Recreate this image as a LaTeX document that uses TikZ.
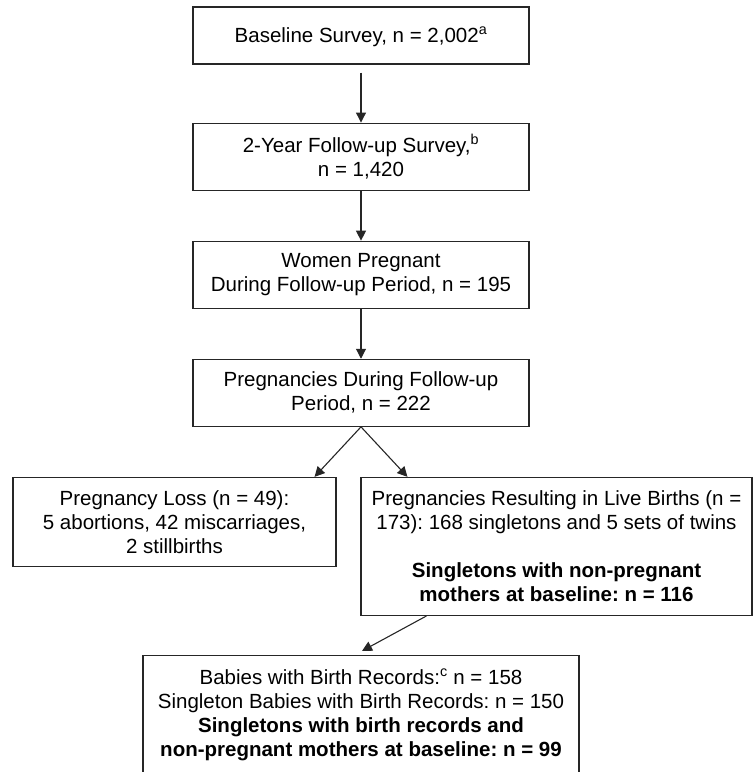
\documentclass[tikz,border=0pt]{standalone}
\usepackage{fontspec}
\setmainfont{Liberation Sans}
\usetikzlibrary{arrows.meta,positioning,calc}
\frenchspacing

\begin{document}
\begin{tikzpicture}[x=1pt,y=1pt,node distance=50pt,
    every node/.style={font=\fontsize{20.5}{24}\selectfont, align=center},
    flowbox/.style={draw=black!85, line width=1.1pt, inner xsep=4pt, inner ysep=6pt},
    flow/.style={draw=black!85, line width=1.1pt, -{Triangle[length=10pt,width=10pt]}}]
  \useasboundingbox (0,0) rectangle (753,-772);
  \node[flowbox, minimum width=336pt, text height=27pt, text depth=14pt, inner ysep=8pt](baseline) at (361,-35.5){Baseline Survey, n = 2,002\textsuperscript{a}};
  \node[flowbox, minimum width=336pt, minimum height=67pt, below=58pt of baseline](followup){2-Year Follow-up Survey,\textsuperscript{b}\\n = 1,420};
  \node[flowbox, minimum width=336pt, minimum height=67pt, below=of followup](pregnant){Women Pregnant\\During Follow-up Period, n = 195};
  \node[flowbox, minimum width=336pt, minimum height=67pt, below=of pregnant](pregnancies){Pregnancies During Follow-up\\Period, n = 222};
  \node[flowbox, minimum width=323pt, minimum height=89pt, below=of pregnancies, xshift=-186.5pt](loss){Pregnancy Loss (n = 49):\\5 abortions, 42 miscarriages,\\2 stillbirths};
  \node[flowbox, minimum width=391pt, minimum height=138pt, below=of pregnancies, xshift=195.5pt](live){Pregnancies Resulting in Live Births (n =\\173): 168 singletons and 5 sets of twins\\[24pt]\textbf{Singletons with non-pregnant}\\\textbf{mothers at baseline: n = 116}};
  \node[flowbox, minimum width=436pt, minimum height=138pt, below=39pt of live, xshift=-195.5pt](records){Babies with Birth Records:\textsuperscript{c} n = 158\\Singleton Babies with Birth Records: n = 150\\\textbf{Singletons with birth records and}\\\textbf{non-pregnant mothers at baseline: n = 99}\\\mbox{}};
  % Arrows
  \draw[flow, shorten <=8pt] (baseline) -- (followup);
  \draw[flow] (followup) -- (pregnant);
  \draw[flow] (pregnant) -- (pregnancies);
  \draw[flow] (pregnancies.south) -- ($(loss.north east)+(-22pt,0)$);
  \draw[flow] (pregnancies.south) -- ($(live.north west)+(47pt,0)$);
  \draw[flow] ($(live.south west)+(66pt,0)$) -- ($(records.north)+(1pt,4pt)$);
\end{tikzpicture}
\end{document}
